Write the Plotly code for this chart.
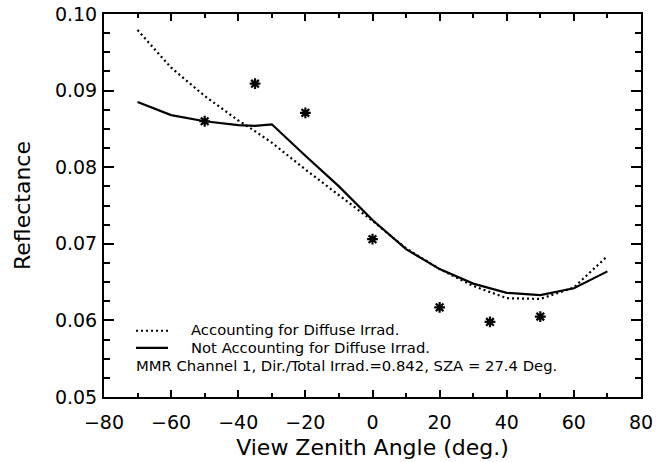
import plotly.graph_objects as go

# Data
vza_curve = [-70, -60, -50, -40, -35, -30, -20, -10, 0, 10, 20, 30, 40, 50, 60, 70]
refl_accounting = [0.0979, 0.0930, 0.0893, 0.0861, 0.0847, 0.0832, 0.0797, 0.0763, 0.0730,
                   0.0694, 0.0667, 0.0645, 0.0629, 0.0628, 0.0643, 0.0684]
refl_not_accounting = [0.0885, 0.0868, 0.0860, 0.0855, 0.0854, 0.0856, 0.0815, 0.0775, 0.0731,
                       0.0693, 0.0667, 0.0648, 0.0636, 0.0633, 0.0642, 0.0664]
vza_meas = [-50, -35, -20, 0, 20, 35, 50]
refl_meas = [0.0860, 0.0909, 0.0871, 0.0706, 0.0617, 0.0598, 0.0605]

x_ticks = [-80, -60, -40, -20, 0, 20, 40, 60, 80]
y_ticks = [0.05, 0.06, 0.07, 0.08, 0.09, 0.10]
y_tick_text = ["0.05", "0.06", "0.07", "0.08", "0.09", "0.10"]

legend_names = ["Accounting for Diffuse Irrad.", "Not Accounting for Diffuse Irrad."]
note_text = "MMR Channel 1, Dir./Total Irrad.=0.842, SZA = 27.4 Deg."

FONT = "DejaVu Sans, Verdana, sans-serif"
DOT = "2px,3px"
TXT = 14.8

fig = go.Figure()
fig.add_trace(go.Scatter(
    x=vza_curve, y=refl_accounting, mode="lines", name=legend_names[0], showlegend=False,
    line=dict(color="black", width=2.2, dash=DOT),
))
fig.add_trace(go.Scatter(
    x=vza_curve, y=refl_not_accounting, mode="lines", name=legend_names[1], showlegend=False,
    line=dict(color="black", width=2.2),
))
fig.add_trace(go.Scatter(
    x=vza_meas, y=refl_meas, mode="markers", showlegend=False, name="Measured",
    marker=dict(symbol="asterisk-open", size=9, color="black",
                line=dict(color="black", width=2.2)),
))

# Hand-built legend inside the plot (sample lines + labels) and the note line
legend_rows = [(0.1730, DOT, legend_names[0]), (0.1282, None, legend_names[1])]
for ypos, dash, label in legend_rows:
    line_style = dict(color="black", width=2.2)
    if dash:
        line_style["dash"] = dash
    fig.add_shape(type="line", xref="paper", yref="paper", x0=0.0596, x1=0.1192,
                  y0=ypos, y1=ypos, line=line_style)
    fig.add_annotation(x=0.1580, y=ypos + 0.002, xref="paper", yref="paper", xanchor="left",
                       yanchor="middle", text=label, showarrow=False,
                       font=dict(family=FONT, size=TXT, color="black"))

fig.add_annotation(
    x=0.0560, y=0.0834, xref="paper", yref="paper", xanchor="left", yanchor="middle",
    text=note_text, showarrow=False, font=dict(family=FONT, size=TXT, color="black"),
)

fig.update_layout(
    width=656, height=462,
    margin=dict(l=104, r=15, t=14, b=65, autoexpand=False),
    paper_bgcolor="white", plot_bgcolor="white",
    font=dict(family=FONT, color="black"),
    showlegend=False,
)

fig.update_xaxes(
    range=[-80, 80], tickvals=x_ticks, ticks="inside", ticklen=7, tickwidth=2,
    tickcolor="black", showline=True, linecolor="black", linewidth=2, mirror="ticks",
    showgrid=False, zeroline=False, automargin=False,
    minor=dict(dtick=10, tick0=0, ticks="inside", ticklen=4, tickwidth=1.5, tickcolor="black", showgrid=False),
    tickfont=dict(family=FONT, size=19, color="black"), ticklabelstandoff=7,
    title=dict(text="View Zenith Angle (deg.)", font=dict(family=FONT, size=22, color="black"), standoff=8),
)
fig.update_yaxes(
    range=[0.05, 0.10], tickvals=y_ticks, ticktext=y_tick_text, ticks="inside", ticklen=10, tickwidth=2,
    tickcolor="black", showline=True, linecolor="black", linewidth=2, mirror="ticks",
    showgrid=False, zeroline=False, automargin=False,
    minor=dict(dtick=0.0025, tick0=0.05, ticks="inside", ticklen=6, tickwidth=1.5, tickcolor="black", showgrid=False),
    tickfont=dict(family=FONT, size=19, color="black"), ticklabelstandoff=1,
    title=dict(text="Reflectance", font=dict(family=FONT, size=22, color="black"), standoff=18),
)

fig.write_html("out.html")
